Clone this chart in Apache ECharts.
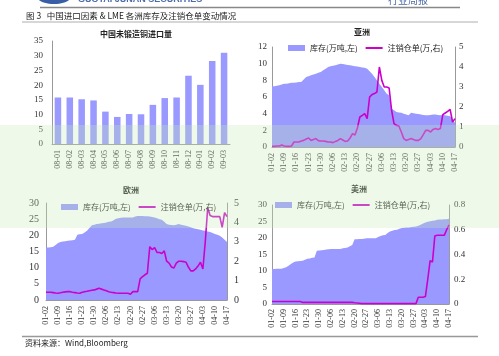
<!DOCTYPE html>
<html><head><meta charset="utf-8">
<script src="https://cdn.jsdelivr.net/npm/echarts@6/dist/echarts.min.js"></script>
<style>html,body{margin:0;padding:0;background:#fff}#c{width:499px;height:356px}</style>
</head><body><div id="c"></div><script>
// ---- data ----
const importMonths = ['08-01','08-02','08-03','08-04','08-05','08-06','08-07','08-08','08-09','08-10','08-11','08-12','09-01','09-02','09-03'];
const importValues = [15.8,15.8,15.2,14.8,11.0,9.2,10.2,10.1,13.3,15.6,15.8,23.2,20.1,28.2,31.0];

const dates = ['01-02','01-05','01-06','01-07','01-08','01-09','01-12','01-13','01-14','01-15','01-16','01-19','01-20','01-21','01-22','01-23','01-26','01-27','01-28','01-29','01-30',
'02-02','02-03','02-04','02-05','02-06','02-09','02-10','02-11','02-12','02-13','02-16','02-17','02-18','02-19','02-20','02-23','02-24','02-25','02-26','02-27',
'03-02','03-03','03-04','03-05','03-06','03-09','03-10','03-11','03-12','03-13','03-16','03-17','03-18','03-19','03-20','03-23','03-24','03-25','03-26','03-27','03-30','03-31',
'04-01','04-02','04-03','04-06','04-07','04-08','04-09','04-10','04-13','04-14','04-15','04-16','04-17'];

const asiaStock = [7.3,7.3,7.35,7.4,7.5,7.6,7.6,7.65,7.7,7.7,7.75,7.8,7.8,8.1,8.4,8.5,8.6,8.7,8.8,8.9,9.0,9.2,9.4,9.6,9.7,9.75,9.8,9.9,10.0,9.95,9.9,9.85,9.8,9.75,9.7,9.65,9.6,9.55,9.5,9.4,9.1,8.8,8.4,8.0,7.6,7.2,6.8,6.4,6.2,4.6,4.4,4.2,4.15,4.1,4.0,3.9,3.8,4.1,4.05,4.0,3.95,3.9,3.85,3.8,3.8,3.85,3.9,3.9,3.85,3.8,3.85,3.8,3.75,3.7,3.3,2.9];
const asiaWarrant = [0.03,0.03,0.05,0.05,0.1,0.05,0.03,0.03,0.05,0.25,0.25,0.25,0.3,0.33,0.4,0.45,0.33,0.38,0.42,0.32,0.3,0.3,0.28,0.25,0.25,0.22,0.28,0.33,0.42,0.35,0.28,0.3,0.45,0.67,0.6,0.95,1.5,1.58,1.67,1.42,2.5,2.62,2.67,2.75,4.0,3.33,3.0,3.0,2.95,1.85,1.17,1.08,1.05,0.75,0.42,0.33,0.38,0.42,0.37,0.33,0.33,0.42,0.62,0.83,0.83,0.75,0.88,0.92,0.88,0.92,1.62,1.7,1.78,1.88,1.25,1.42];

const euroStock = [16.2,16.2,16.3,16.5,17.0,17.6,17.9,18.1,18.2,18.3,18.4,18.5,18.6,20.2,20.3,20.4,20.9,21.4,22.3,23.1,23.3,23.5,23.6,23.7,23.8,24.0,24.2,24.3,24.7,25.1,25.3,25.4,25.5,25.5,25.5,25.5,25.5,25.8,26.0,26.0,26.0,25.9,25.9,25.8,25.7,25.5,25.3,25.0,24.8,24.2,23.5,23.3,23.2,23.1,23.3,23.5,23.3,23.1,23.0,22.7,22.5,22.2,22.0,21.9,21.7,21.5,21.4,21.2,21.0,20.7,20.4,20.2,19.9,19.3,18.6,17.9];
const euroWarrant = [0.4,0.4,0.4,0.38,0.36,0.35,0.37,0.4,0.42,0.43,0.43,0.4,0.38,0.36,0.35,0.4,0.43,0.45,0.48,0.5,0.52,0.56,0.6,0.56,0.52,0.48,0.43,0.4,0.38,0.36,0.35,0.35,0.35,0.35,0.35,0.3,0.43,0.43,0.43,1.09,1.2,1.3,1.38,2.75,2.6,2.7,2.45,2.45,2.4,2.53,2.0,1.9,1.7,1.65,1.9,2.0,2.0,1.98,1.95,1.7,1.5,1.5,1.6,1.75,1.95,1.6,3.0,4.75,4.35,4.3,4.3,4.3,4.3,3.75,4.5,4.3];

const amerStock = [10.6,10.6,10.65,10.7,10.7,10.9,11.1,11.6,12.1,12.6,12.9,12.95,13.0,13.1,13.4,13.7,13.8,14.0,14.1,16.1,16.2,16.3,16.4,16.5,16.6,16.7,16.7,16.7,16.7,16.7,16.9,17.0,17.1,17.5,17.9,19.6,19.6,19.7,19.7,19.8,19.9,19.9,19.9,19.9,19.9,20.3,20.6,20.8,20.9,21.5,22.0,22.2,22.4,22.5,22.8,23.0,23.1,23.2,23.2,23.3,23.4,23.5,23.7,24.0,24.4,24.7,24.9,25.1,25.2,25.3,25.5,25.6,25.6,25.7,25.7,25.8];
const amerWarrant = [0.02,0.02,0.02,0.02,0.02,0.02,0.02,0.02,0.02,0.02,0.02,0.02,0.02,0.013,0.013,0.013,0.013,0.013,0.013,0.013,0.013,0.013,0.013,0.013,0.013,0.013,0.013,0.013,0.013,0.013,0.013,0.013,0.013,0.013,0.013,0.01,0.008,0.006,0.003,0.003,0.003,0.003,0.003,0.003,0.003,0.003,0.003,0.003,0.003,0.003,0.003,0.003,0.003,0.003,0.003,0.003,0.003,0.003,0.003,0.003,0.003,0.003,0.055,0.055,0.055,0.06,0.2,0.35,0.34,0.55,0.555,0.555,0.555,0.555,0.6,0.64];

const stockName = '库存(万吨,左)';
const warrantName = '注销仓单(万,右)';

// ---- styles ----
const BLUE = '#9999ff', MAG = '#cc00cc';
const CJK = '"Noto Sans CJK SC", sans-serif';
const NUM = '"Liberation Serif", serif';
const axisLineStyle = {show:true, lineStyle:{color:'#999', width:1}};

function xCat(grid, data, interval, margin){
  return {type:'category', gridIndex:grid, data:data, boundaryGap: grid===0,
    axisLine: axisLineStyle, axisTick:{show:false},
    axisLabel:{rotate:90, interval:interval, fontSize:8, color:'#333', fontFamily:NUM, margin:margin}};
}
function yVal(grid, pos, min, max, interval, fs, margin, fmt){
  return {type:'value', gridIndex:grid, position:pos, min:min, max:max, interval:interval,
    splitLine:{show:false}, axisLine: axisLineStyle, axisTick:{show:false},
    axisLabel:{fontSize:fs, color:'#333', fontFamily:NUM, margin:margin, formatter:fmt}};
}
function legend(left, top){
  return {left:left, top:top, itemWidth:17, itemHeight:6, itemGap:8, selectedMode:false,
    textStyle:{fontSize:8, color:'#222', fontFamily:CJK},
    data:[{name:stockName, icon:'rect', itemStyle:{color:BLUE}},
          {name:warrantName, icon:'path://M0,0 L34,0 L34,4 L0,4 Z', itemStyle:{color:MAG}}]};
}
function stockSeries(xi, yi, data){
  return {name:stockName, type:'line', xAxisIndex:xi, yAxisIndex:yi, data:data, symbol:'none',
    color:BLUE, lineStyle:{width:0}, areaStyle:{color:BLUE, opacity:1}, z:1};
}
function warrantSeries(xi, yi, data){
  return {name:warrantName, type:'line', xAxisIndex:xi, yAxisIndex:yi, data:data, symbol:'none',
    color:MAG, lineStyle:{width:1.6, color:MAG}, z:3};
}
function title(text, left, top){
  return {text:text, left:left, top:top, padding:0, textStyle:{fontSize:8, fontWeight:'bold', color:'#222', fontFamily:CJK}};
}

const chart = echarts.init(document.getElementById('c'), null, {renderer:'canvas'});
chart.setOption({
  animation:false,
  backgroundColor:'#fff',
  title:[title('中国未锻造铜进口量',100,30), title('亚洲',354,28), title('欧洲',123,186), title('美洲',351,185)],
  legend:[legend(283,39), legend(56,198), legend(270,196)],
  grid:[
    {left:52, top:41, width:178, height:103},
    {left:272, top:47, width:183, height:100},
    {left:46, top:203, width:181, height:97},
    {left:272, top:205, width:177, height:99}
  ],
  xAxis:[
    xCat(0, importMonths, 0, 6),
    xCat(1, dates, 4, 6),
    xCat(2, dates, 4, 6),
    xCat(3, dates, 4, 5)
  ],
  yAxis:[
    yVal(0,'left',0,35,5,9,9),
    yVal(1,'left',0,12,2,9,5),
    yVal(1,'right',0,5,1,9,4),
    yVal(2,'left',0,30,5,10,7),
    yVal(2,'right',0,5,1,10,7),
    yVal(3,'left',0,30,5,9,5),
    yVal(3,'right',0,0.8,0.2,9,5, v => v===0 ? '0' : v.toFixed(1))
  ],
  series:[
    {name:'进口量', type:'bar', xAxisIndex:0, yAxisIndex:0, data:importValues, barWidth:'55%', itemStyle:{color:BLUE}},
    stockSeries(1,1,asiaStock), warrantSeries(1,2,asiaWarrant),
    stockSeries(2,3,euroStock), warrantSeries(2,4,euroWarrant),
    stockSeries(3,5,amerStock), warrantSeries(3,6,amerWarrant)
  ],
  graphic:[
    {type:'ellipse', shape:{cx:54, cy:-2, rx:16, ry:6}, style:{fill:'#3a5da8'}},
    {type:'text', left:78, top:-5, style:{text:'GUOTAI JUNAN SECURITIES', fontSize:9, fontWeight:'bold', fill:'#4a6aa8', fontFamily:'"Liberation Sans", sans-serif'}},
    {type:'text', left:388, top:-5, style:{text:'行业周报', fontSize:10, fill:'#4a6aa8', fontFamily:CJK}},
    {type:'line', shape:{x1:40, y1:7.5, x2:460, y2:7.5}, style:{stroke:'#888', lineWidth:1.5}},
    {type:'text', left:26, top:12, style:{text:'图 3   中国进口因素 & LME 各洲库存及注销仓单变动情况', fontSize:8.5, fill:'#222', fontFamily:CJK}},
    {type:'line', shape:{x1:22, y1:22, x2:478, y2:22}, style:{stroke:'#999', lineWidth:0.8}},
    {type:'line', shape:{x1:22, y1:336.5, x2:478, y2:336.5}, style:{stroke:'#999', lineWidth:1.5}},
    {type:'text', left:25, top:339, style:{text:'资料来源：Wind,Bloomberg', fontSize:8, fill:'#222', fontFamily:CJK}},
    {type:'rect', silent:true, z:100, shape:{x:0, y:125, width:499, height:103}, style:{fill:'rgba(200,235,185,0.3)'}}
  ]
});
</script></body></html>
